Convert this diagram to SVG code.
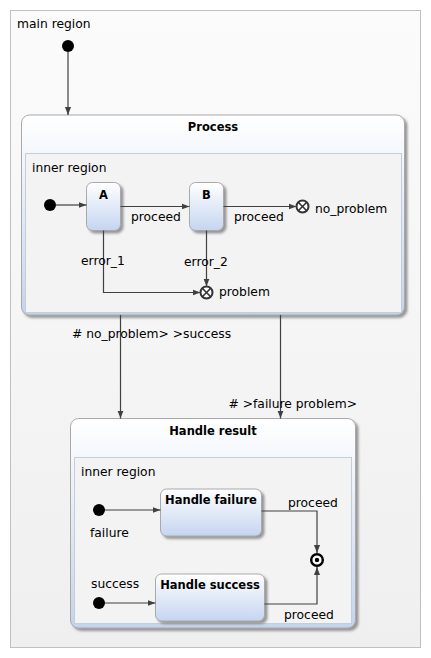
<svg xmlns="http://www.w3.org/2000/svg" width="431" height="658" viewBox="0 0 431 658">
<style>
text{font-family:"DejaVu Sans","Liberation Sans",sans-serif;font-size:12.3px;fill:#000}
.title{font-weight:bold;font-size:11.5px;text-anchor:middle}
.conn{fill:none;stroke:#404040;stroke-width:1.2}
.region{fill:#f3f3f3;stroke:#c2cede;stroke-width:1}
.comp{fill:url(#gComp);stroke:#a9a9a9;stroke-width:1}
.state{fill:url(#gState);stroke:#a9a9a9;stroke-width:1}
.init{fill:#000}
.exit{fill:#fff;stroke:#333;stroke-width:2}
.x{stroke:#333;stroke-width:1.6}
</style>
<defs>
<linearGradient id="gMain" x1="0" y1="0" x2="0" y2="1"><stop offset="0" stop-color="#fbfbfb"/><stop offset="1" stop-color="#efefef"/></linearGradient>
<linearGradient id="gComp" x1="0" y1="0" x2="0" y2="1"><stop offset="0" stop-color="#ffffff"/><stop offset="1" stop-color="#c4d4ee"/></linearGradient>
<linearGradient id="gState" x1="0" y1="0" x2="0" y2="1"><stop offset="0" stop-color="#ffffff"/><stop offset="1" stop-color="#c5d5f0"/></linearGradient>
<filter id="shadow" x="-10%" y="-10%" width="130%" height="130%"><feDropShadow dx="2.5" dy="2.5" stdDeviation="1" flood-color="#707070" flood-opacity="0.7"/></filter>
<marker id="arr" viewBox="0 0 10 10" refX="10" refY="5" markerWidth="8" markerHeight="8" markerUnits="userSpaceOnUse" orient="auto"><path d="M0,1.2 L10,5 L0,8.8 z" fill="#404040"/></marker>
</defs>

<g id="main-region">
<rect x="10.5" y="10.5" width="410" height="637" fill="url(#gMain)" stroke="#c0c0c0"/>
<text x="17" y="28">main region</text>
</g>

<g id="main-initial"><circle class="init" cx="68" cy="46" r="6"/></g>

<g id="process">
<rect class="comp" x="21.5" y="115" width="383" height="200" rx="8" filter="url(#shadow)"/>
<text class="title" x="213" y="131">Process</text>
<rect class="region" x="25.5" y="153.5" width="376" height="159"/>
<text x="32" y="172">inner region</text>
</g>

<g id="process-initial"><circle class="init" cx="50" cy="205" r="6"/></g>

<g id="state-A">
<rect class="state" x="86.5" y="182.5" width="34" height="48" rx="6" filter="url(#shadow)"/>
<text class="title" x="103.5" y="199">A</text>
</g>

<g id="state-B">
<rect class="state" x="189.5" y="182.5" width="34" height="48" rx="6" filter="url(#shadow)"/>
<text class="title" x="206.5" y="199">B</text>
</g>

<g id="exit-no_problem">
<circle class="exit" cx="302.5" cy="206.5" r="6"/>
<line class="x" x1="298.3" y1="202.3" x2="306.7" y2="210.7"/>
<line class="x" x1="306.7" y1="202.3" x2="298.3" y2="210.7"/>
<text x="315" y="213">no_problem</text>
</g>

<g id="exit-problem">
<circle class="exit" cx="206.5" cy="292.5" r="6"/>
<line class="x" x1="202.3" y1="288.3" x2="210.7" y2="296.7"/>
<line class="x" x1="210.7" y1="288.3" x2="202.3" y2="296.7"/>
<text x="219" y="296">problem</text>
</g>

<g id="handle-result">
<rect class="comp" x="70.5" y="418.5" width="285" height="209.5" rx="8" filter="url(#shadow)"/>
<text class="title" x="213" y="435">Handle result</text>
<rect class="region" x="74.5" y="457.5" width="277" height="166"/>
<text x="81" y="476">inner region</text>
</g>

<g id="entry-failure">
<circle class="init" cx="99" cy="510" r="6"/>
<text x="90" y="537">failure</text>
</g>

<g id="entry-success">
<circle class="init" cx="99" cy="603" r="6"/>
<text x="91" y="588">success</text>
</g>

<g id="handle-failure">
<rect class="state" x="160.5" y="489" width="101" height="47" rx="6" filter="url(#shadow)"/>
<text class="title" x="211" y="504">Handle failure</text>
</g>

<g id="handle-success">
<rect class="state" x="155.5" y="574" width="109" height="47" rx="6" filter="url(#shadow)"/>
<text class="title" x="210" y="589">Handle success</text>
</g>

<g id="final">
<circle cx="317" cy="560" r="5.8" fill="#fff" stroke="#000" stroke-width="2.4"/>
<circle cx="317" cy="560" r="2.2" fill="#000"/>
</g>

<g id="connectors">
<path class="conn" d="M68,52 V115" marker-end="url(#arr)"/>
<path class="conn" d="M56,205 H86.5" marker-end="url(#arr)"/>
<path class="conn" d="M120.5,206.5 H189.5" marker-end="url(#arr)"/>
<text x="131" y="221">proceed</text>
<path class="conn" d="M223.5,206.5 H296.5" marker-end="url(#arr)"/>
<text x="234" y="221">proceed</text>
<path class="conn" d="M103.5,230.5 V292.5 H200.5" marker-end="url(#arr)"/>
<text x="81" y="265">error_1</text>
<path class="conn" d="M206.5,230.5 V286.5" marker-end="url(#arr)"/>
<text x="184" y="266">error_2</text>
<path class="conn" d="M120.5,315 V418.5" marker-end="url(#arr)"/>
<text x="72" y="338"># no_problem&gt; &gt;success</text>
<path class="conn" d="M280.5,315 V418.5" marker-end="url(#arr)"/>
<text x="228.5" y="408"># &gt;failure problem&gt;</text>
<path class="conn" d="M105,510 H160.5" marker-end="url(#arr)"/>
<path class="conn" d="M105,603 H155.5" marker-end="url(#arr)"/>
<path class="conn" d="M261.5,511 H317 V553" marker-end="url(#arr)"/>
<text x="288" y="507">proceed</text>
<path class="conn" d="M264.5,604 H317 V567" marker-end="url(#arr)"/>
<text x="284" y="619">proceed</text>
</g>
</svg>
